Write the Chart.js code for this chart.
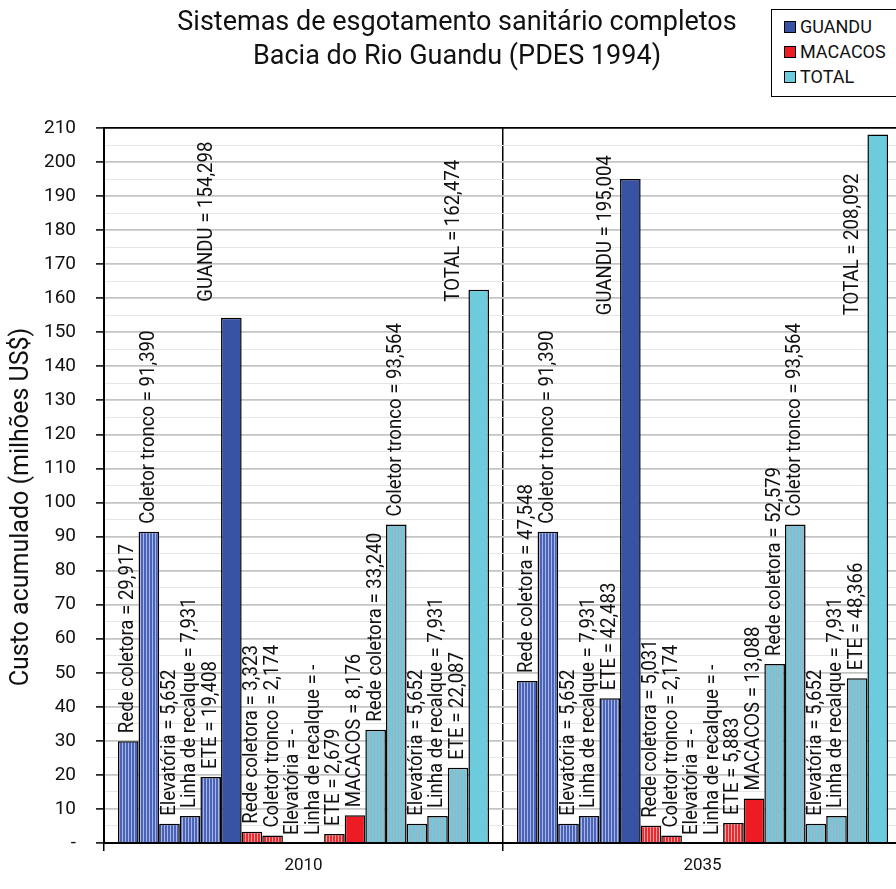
<!DOCTYPE html>
<html>
<head>
  <title>Sistemas de esgotamento sanitário completos</title>
  <script src="https://cdn.jsdelivr.net/npm/chart.js"></script>
  <style>
    body {
      margin: 0;
      width: 896px;
      height: 889px;
      overflow: hidden;
      background: #fff;
      position: relative;
      font-family: Roboto, 'DejaVu Sans Condensed', sans-serif;
    }
    #wrap {
      position: absolute;
      left: 0;
      top: 0;
      width: 906px;
      height: 889px;
    }
    #title {
      position: absolute;
      left: 0;
      width: 914px;
      top: 4px;
      text-align: center;
      font-size: 27px;
      line-height: 34px;
      color: #111;
    }
    #legend {
      position: absolute;
      left: 771px;
      top: 9px;
      width: 130px;
      height: 88px;
      border: 1.5px solid #000;
      padding-top: 4px;
      box-sizing: border-box;
      background: #fff;
    }
    .item {
      display: flex;
      align-items: center;
      height: 25px;
      padding-left: 12px;
      font-size: 18px;
      color: #111;
    }
    .item span.box {
      width: 10px;
      height: 10px;
      border: 1.5px solid #000;
      margin-right: 4px;
    }
  </style>
</head>
<body>
  <div id="wrap"><canvas id="chart" width="906" height="889"></canvas></div>
  <div id="title">Sistemas de esgotamento sanitário completos<br>Bacia do Rio Guandu (PDES 1994)</div>
  <div id="legend"></div>

  <script>
    // categories and series
    const years = ['2010', '2035'];
    const systems = ['GUANDU', 'MACACOS', 'TOTAL'];
    const items = ['Rede coletora', 'Coletor tronco', 'Elevatória', 'Linha de recalque', 'ETE'];

    // last value of each list is the system total
    const guandu2010  = [29.917, 91.390, 5.652, 7.931, 19.408, 154.298];
    const guandu2035  = [47.548, 91.390, 5.652, 7.931, 42.483, 195.004];
    const macacos2010 = [3.323, 2.174, 0, 0, 2.679, 8.176];
    const macacos2035 = [5.031, 2.174, 0, 0, 5.883, 13.088];
    const total2010   = [33.240, 93.564, 5.652, 7.931, 22.087, 162.474];
    const total2035   = [52.579, 93.564, 5.652, 7.931, 48.366, 208.092];

    const yMax = 210;
    const yTitle = 'Custo acumulado (milhões US$)';

    const solidColors  = ['#3953a4', '#ed1c24', '#6ccbdc'];
    const stripeColors = [['#4a63b6', '#a9b6e8'], ['#ec2a2e', '#f4a3a6'], ['#6ccbdc', '#b0aabb']];

    const labelFont = '21px Roboto, "DejaVu Sans Condensed", sans-serif';

    function stripes(base, light) {
      const c = document.createElement('canvas');
      c.width = 3; c.height = 4;
      const g = c.getContext('2d');
      g.fillStyle = base; g.fillRect(0, 0, 3, 4);
      g.fillStyle = light; g.fillRect(2, 0, 1, 4);
      return g.createPattern(c, 'repeat');
    }

    const seriesBySystem = [
      [guandu2010, guandu2035],
      [macacos2010, macacos2035],
      [total2010, total2035]
    ];

    const datasets = [];
    systems.forEach((sys, s) => {
      const [a, b] = seriesBySystem[s];
      const pat = stripes(stripeColors[s][0], stripeColors[s][1]);
      for (let i = 0; i < 6; i++) {
        const isTotal = i === 5;
        datasets.push({
          label: isTotal ? sys : items[i],
          // big totals (GUANDU, TOTAL) have their label beside the bar
          beside: isTotal && sys !== 'MACACOS',
          data: [a[i], b[i]],
          backgroundColor: isTotal ? solidColors[s] : pat,
          borderColor: '#000',
          borderWidth: 1.5,
          borderSkipped: 'start'
        });
      }
    });

    // legend box (html)
    const legend = document.getElementById('legend');
    systems.forEach((sys, s) => {
      legend.innerHTML += '<div class="item"><span class="box" style="background:' + solidColors[s] + '"></span>' + sys + '</div>';
    });

    function fmt(v) {
      return v === 0 ? '-' : v.toFixed(3).replace('.', ',');
    }

    // rotated value labels + y title
    const barLabels = {
      id: 'barLabels',
      afterDatasetsDraw(chart) {
        const ctx = chart.ctx;
        const yScale = chart.scales.y;
        ctx.save();
        ctx.font = labelFont;
        ctx.fillStyle = '#111';
        ctx.textAlign = 'left';
        ctx.textBaseline = 'alphabetic';
        // squeeze text to look like the narrow font of the original
        const squeeze = 189 / ctx.measureText('Rede coletora = 29,917').width;
        chart.data.datasets.forEach((ds, d) => {
          const meta = chart.getDatasetMeta(d);
          meta.data.forEach((bar, j) => {
            const txt = ds.label + ' = ' + fmt(ds.data[j]);
            let x = bar.x + 5;
            let y = bar.y - 8;
            if (ds.beside) {
              x = bar.x + 5 - bar.width - 4;
              y = yScale.getPixelForValue(j === 0 ? 159 : 155);
            }
            ctx.save();
            ctx.translate(x, y);
            ctx.rotate(-Math.PI / 2);
            ctx.scale(squeeze, 1);
            ctx.fillText(txt, 0, 0);
            ctx.restore();
          });
        });

        // y axis title
        ctx.font = '25px Roboto, sans-serif';
        ctx.textAlign = 'center';
        ctx.textBaseline = 'middle';
        ctx.translate(22, 507);
        ctx.rotate(-Math.PI / 2);
        const tw = ctx.measureText(yTitle).width;
        ctx.scale(Math.min(1, 370 / tw), 1);
        ctx.fillText(yTitle, 0, 0);
        ctx.restore();
      }
    };

    Chart.defaults.font.family = 'Roboto, "DejaVu Sans Condensed", sans-serif';
    Chart.defaults.color = '#111';

    new Chart(document.getElementById('chart'), {
      type: 'bar',
      data: { labels: years, datasets: datasets },
      options: {
        responsive: false,
        animation: false,
        layout: { padding: { top: 128, right: 4, left: 0, bottom: 0 } },
        datasets: {
          bar: { categoryPercentage: 0.93, barPercentage: 1.0 }
        },
        plugins: {
          legend: { display: false },
          tooltip: { enabled: false }
        },
        scales: {
          x: {
            afterFit: (scale) => { scale.height = 46; },
            grid: {
              offset: true,
              color: '#000',
              lineWidth: 1.5,
              tickLength: 8
            },
            border: { color: '#000', width: 2 },
            ticks: { padding: 5, font: { size: 17 }, color: '#111' }
          },
          y: {
            min: 0,
            max: yMax,
            afterFit: (scale) => { scale.width = 104; },
            grid: {
              color: (c) => {
                const v = c.tick.value;
                if (v === yMax) return '#000';
                return v % 10 === 0 ? '#c4c4c4' : '#e6e6e6';
              },
              lineWidth: (c) => (c.tick.value % 10 === 0 ? 1.8 : 1),
              tickColor: (c) => (c.tick.value % 10 === 0 ? '#000' : 'rgba(0,0,0,0)'),
              tickLength: 8,
              tickWidth: 1.5
            },
            border: { color: '#000', width: 2 },
            ticks: {
              stepSize: 5,
              autoSkip: false,
              padding: 20,
              font: { size: 19 },
              color: '#111',
              callback: (v) => (v % 10 !== 0 ? '' : (v === 0 ? '-' : v))
            }
          }
        }
      },
      plugins: [barLabels]
    });
  </script>
</body>
</html>
